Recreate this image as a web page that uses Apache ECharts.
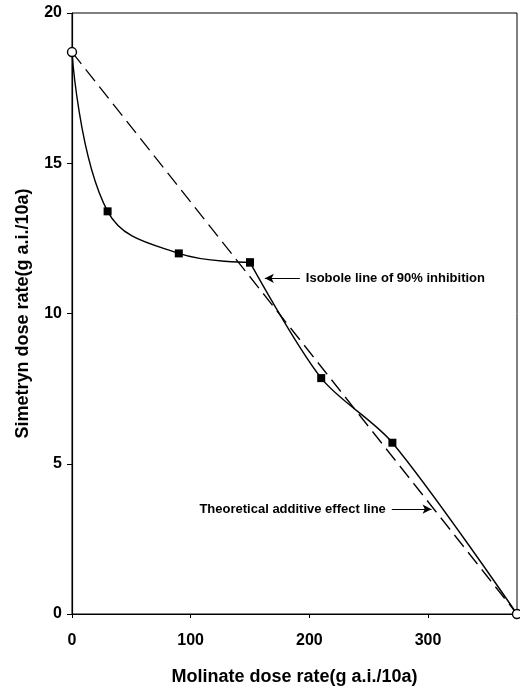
<!DOCTYPE html>
<html>
<head>
<meta charset="utf-8">
<script src="https://cdn.jsdelivr.net/npm/echarts@6/dist/echarts.min.js"></script>
<style>html,body{margin:0;padding:0;background:#fff;}#c{width:520px;height:686px;}</style>
</head>
<body>
<div id="c"></div>
<script>
// Data
const molinate = [0, 30, 90, 150, 210, 270, 375];
const simetryn = [18.7, 13.4, 12.0, 11.7, 7.85, 5.7, 0];
const additiveX = [0, 375];
const additiveY = [18.7, 0];
const xTicks = [0, 100, 200, 300];
const yTicks = [0, 5, 10, 15, 20];
const xTitle = 'Molinate dose rate(g a.i./10a)';
const yTitle = 'Simetryn dose rate(g a.i./10a)';
const isoboleLabel = 'Isobole line of 90% inhibition';
const additiveLabel = 'Theoretical additive effect line';
const isoboleArrow = [[192, 11.17], [162.5, 11.17]];
const additiveArrow = [[269.5, 3.49], [303, 3.49]];
const curveBreak = 3; // index where the spline is restarted

const FONT = '"Liberation Sans", Arial, sans-serif';
const chart = echarts.init(document.getElementById('c'), null, {renderer: 'canvas'});

const curveData = molinate.map((x, i) => {
  const end = (i === 0 || i === molinate.length - 1);
  return {
    value: [x, simetryn[i]],
    symbol: end ? 'circle' : 'rect',
    symbolSize: end ? 9 : 8,
    itemStyle: end ? {color: '#fff', borderColor: '#000', borderWidth: 1.4} : {color: '#000', borderWidth: 0}
  };
});

function arrowLine(pts, text) {
  return [[
    {coord: pts[0], label: {show: true, position: 'start', formatter: text, distance: 6,
      color: '#000', fontFamily: FONT, fontWeight: 'bold', fontSize: 13}},
    {coord: pts[1]}
  ]];
}

chart.setOption({
  animation: false,
  backgroundColor: '#fff',
  grid: {left: 72, right: 3, top: 13, bottom: 72, show: true, borderColor: '#000', borderWidth: 1,
    backgroundColor: 'transparent', outerBoundsMode: 'none', containLabel: false},
  xAxis: {
    type: 'value', min: 0, max: 375,
    name: xTitle, nameLocation: 'middle', nameGap: 54,
    nameTextStyle: {fontFamily: FONT, fontWeight: 'bold', fontSize: 18, color: '#000'},
    axisLine: {show: true, lineStyle: {color: '#000', width: 1}},
    axisTick: {show: true, length: 4, inside: false, lineStyle: {color: '#000'}, customValues: xTicks},
    axisLabel: {fontFamily: FONT, fontWeight: 'bold', fontSize: 16, color: '#000', margin: 19, customValues: xTicks},
    splitLine: {show: false}
  },
  yAxis: {
    type: 'value', min: 0, max: 20, interval: 5,
    name: yTitle, nameLocation: 'middle', nameGap: 40,
    nameTextStyle: {fontFamily: FONT, fontWeight: 'bold', fontSize: 18, color: '#000'},
    axisLine: {show: true, lineStyle: {color: '#000', width: 1.2}},
    axisTick: {show: true, length: 5, inside: false, lineStyle: {color: '#000'}, customValues: yTicks},
    axisLabel: {fontFamily: FONT, fontWeight: 'bold', fontSize: 16, color: '#000', margin: 10, customValues: yTicks},
    splitLine: {show: false}
  },
  series: [
    {
      type: 'line',
      data: additiveX.map((x, i) => [x, additiveY[i]]),
      showSymbol: false, symbol: 'none',
      lineStyle: {color: '#000', width: 1.3, type: [15, 7]},
      clip: false, z: 2,
      markLine: {
        silent: true, symbol: ['none', 'arrow'], symbolSize: [7, 9],
        lineStyle: {color: '#000', width: 1, type: 'solid'},
        data: arrowLine(additiveArrow, additiveLabel)
      }
    },
    {
      type: 'line',
      data: curveData.slice(0, curveBreak + 1),
      showAllSymbol: true,
      smooth: 0.4,
      lineStyle: {color: '#000', width: 1.4},
      clip: false, z: 3,
      markLine: {
        silent: true, symbol: ['none', 'arrow'], symbolSize: [7, 9],
        lineStyle: {color: '#000', width: 1, type: 'solid'},
        data: arrowLine(isoboleArrow, isoboleLabel)
      }
    },
    {
      type: 'line',
      data: curveData.slice(curveBreak),
      showAllSymbol: true,
      smooth: 0.3,
      lineStyle: {color: '#000', width: 1.4},
      clip: false, z: 3
    }
  ]
});
</script>
</body>
</html>
